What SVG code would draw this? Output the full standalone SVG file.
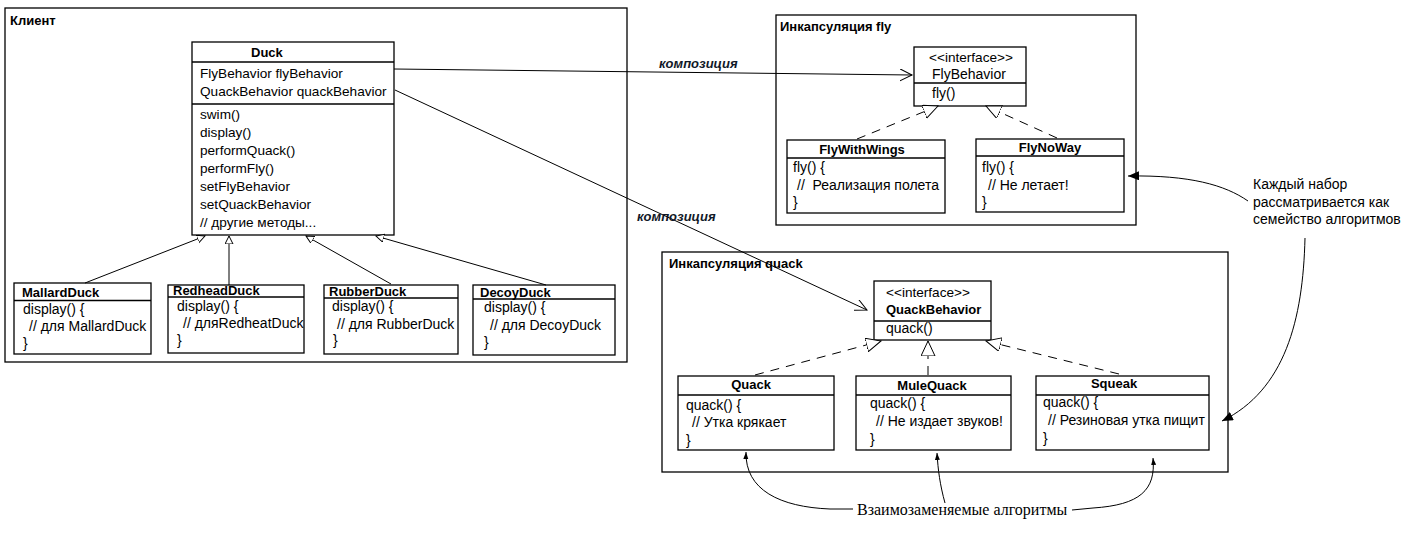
<svg xmlns="http://www.w3.org/2000/svg" width="1414" height="533" viewBox="0 0 1414 533">
<style>
  .box { fill: #fff; stroke: #000; stroke-width: 1.3; }
  .frame { fill: none; stroke: #000; stroke-width: 1.3; }
  .sep { stroke: #000; stroke-width: 1.3; }
  text { font-family: "Liberation Sans", Arial, sans-serif; font-size: 14px; fill: #000; }
  .d { font-size: 13.6px; }
  .b { font-weight: bold; font-size: 13px; }
  .mid { text-anchor: middle; }
  .comp { font-weight: bold; font-style: italic; font-size: 13px; fill: #111827; }
  .serif { font-family: "Liberation Serif", "Times New Roman", serif; font-size: 16px; }
  .line { fill: none; stroke: #000; stroke-width: 1; }
  .dash { fill: none; stroke: #000; stroke-width: 1; stroke-dasharray: 9 7; }
</style>
<defs>
  <marker id="open" markerUnits="userSpaceOnUse" markerWidth="14" markerHeight="14" refX="12" refY="6" orient="auto">
    <path d="M0,0 L12,6 L0,12" fill="none" stroke="#000" stroke-width="1"/>
  </marker>
  <marker id="gen" markerUnits="userSpaceOnUse" markerWidth="10" markerHeight="10" refX="8" refY="4" orient="auto">
    <path d="M0,0 L8,4 L0,8 Z" fill="#fff" stroke="#000" stroke-width="1" stroke-dasharray="none"/>
  </marker>
  <marker id="real" markerUnits="userSpaceOnUse" markerWidth="16" markerHeight="16" refX="15" refY="7" orient="auto">
    <path d="M0,0 L15,7 L0,14 Z" fill="#fff" stroke="#000" stroke-width="1" stroke-dasharray="none"/>
  </marker>
  <marker id="solid" markerUnits="userSpaceOnUse" markerWidth="12" markerHeight="10" refX="11" refY="4.5" orient="auto">
    <path d="M0,0 L11,4.5 L0,9 Z" fill="#000"/>
  </marker>
  <marker id="small" markerUnits="userSpaceOnUse" markerWidth="8" markerHeight="6" refX="7" refY="2.5" orient="auto">
    <path d="M0,0 L7,2.5 L0,5 Z" fill="#000"/>
  </marker>
</defs>

<g id="client">
  <rect class="frame" x="5" y="8" width="622" height="354"/>
  <text class="b" x="10" y="25">Клиент</text>
</g>

<g id="duck">
  <rect class="box" x="192" y="42" width="202" height="193"/>
  <line class="sep" x1="192" y1="62" x2="394" y2="62"/>
  <line class="sep" x1="192" y1="104" x2="394" y2="104"/>
  <text class="b" x="251" y="57">Duck</text>
  <text class="d" x="200" y="78">FlyBehavior flyBehavior</text>
  <text class="d" x="200" y="96">QuackBehavior quackBehavior</text>
  <text class="d" x="200" y="119">swim()</text>
  <text class="d" x="200" y="137">display()</text>
  <text class="d" x="200" y="155">performQuack()</text>
  <text class="d" x="200" y="173">performFly()</text>
  <text class="d" x="200" y="191">setFlyBehavior</text>
  <text class="d" x="200" y="209">setQuackBehavior</text>
  <text class="d" x="200" y="227">// другие методы...</text>
</g>

<g id="mallard">
  <rect class="box" x="14" y="283" width="137" height="71"/>
  <line class="sep" x1="14" y1="300.5" x2="151" y2="300.5"/>
  <text class="b" x="22" y="297">MallardDuck</text>
  <text x="23" y="314">display() {</text>
  <text x="29" y="331">// для MallardDuck</text>
  <text x="23" y="348">}</text>
</g>

<g id="redhead">
  <rect class="box" x="168" y="285" width="136" height="68"/>
  <line class="sep" x1="168" y1="297" x2="304" y2="297"/>
  <text class="b" x="173" y="295">RedheadDuck</text>
  <text x="177" y="311">display() {</text>
  <text x="183" y="328">// дляRedheatDuck</text>
  <text x="177" y="345">}</text>
</g>

<g id="rubber">
  <rect class="box" x="324" y="285" width="134" height="69"/>
  <line class="sep" x1="324" y1="298" x2="458" y2="298"/>
  <text class="b" x="329" y="296">RubberDuck</text>
  <text x="332" y="311">display() {</text>
  <text x="337" y="329">// для RubberDuck</text>
  <text x="333" y="345">}</text>
</g>

<g id="decoy">
  <rect class="box" x="473" y="285" width="142" height="70"/>
  <line class="sep" x1="473" y1="299" x2="615" y2="299"/>
  <text class="b" x="480" y="297">DecoyDuck</text>
  <text x="484" y="312">display() {</text>
  <text x="490" y="330">// для DecoyDuck</text>
  <text x="484" y="347">}</text>
</g>

<g id="fly-group">
  <rect class="frame" x="776" y="15" width="360" height="210"/>
  <text class="b" x="780" y="31">Инкапсуляция fly</text>
</g>

<g id="flybehavior">
  <rect class="box" x="914" y="47" width="112" height="59"/>
  <line class="sep" x1="914" y1="83" x2="1026" y2="83"/>
  <text class="d" x="929" y="62">&lt;&lt;interface&gt;&gt;</text>
  <text x="932" y="79">FlyBehavior</text>
  <text x="932" y="98">fly()</text>
</g>

<g id="flywithwings">
  <rect class="box" x="787" y="140" width="158" height="73"/>
  <line class="sep" x1="787" y1="158" x2="945" y2="158"/>
  <text class="b mid" x="862" y="154">FlyWithWings</text>
  <text x="793" y="172">fly() {</text>
  <text x="797" y="190" xml:space="preserve">//  Реализация полета</text>
  <text x="793" y="207">}</text>
</g>

<g id="flynoway">
  <rect class="box" x="976" y="139" width="148" height="73"/>
  <line class="sep" x1="976" y1="156" x2="1124" y2="156"/>
  <text class="b mid" x="1050" y="152">FlyNoWay</text>
  <text x="982" y="172">fly() {</text>
  <text x="988" y="190">// Не летает!</text>
  <text x="982" y="207">}</text>
</g>

<g id="quack-group">
  <rect class="frame" x="662" y="252" width="566" height="220"/>
  <text class="b" x="669" y="268">Инкапсуляция quack</text>
</g>

<g id="quackbehavior">
  <rect class="box" x="874" y="281" width="117" height="59"/>
  <line class="sep" x1="874" y1="321" x2="991" y2="321"/>
  <text class="d" x="886" y="297">&lt;&lt;interface&gt;&gt;</text>
  <text class="b" x="886" y="314">QuackBehavior</text>
  <text x="886" y="333">quack()</text>
</g>

<g id="quack">
  <rect class="box" x="678" y="376" width="156" height="74"/>
  <line class="sep" x1="678" y1="395" x2="834" y2="395"/>
  <text class="b mid" x="751" y="389">Quack</text>
  <text x="686" y="410">quack() {</text>
  <text x="692" y="427">// Утка крякает</text>
  <text x="686" y="445">}</text>
</g>

<g id="mulequack">
  <rect class="box" x="856" y="376" width="155" height="74"/>
  <line class="sep" x1="856" y1="395" x2="1011" y2="395"/>
  <text class="b mid" x="932" y="390">MuleQuack</text>
  <text x="870" y="408">quack() {</text>
  <text x="876" y="426">// Не издает звуков!</text>
  <text x="870" y="444">}</text>
</g>

<g id="squeak">
  <rect class="box" x="1036" y="376" width="173" height="74"/>
  <line class="sep" x1="1036" y1="395" x2="1209" y2="395"/>
  <text class="b mid" x="1114" y="388">Squeak</text>
  <text x="1043" y="407">quack() {</text>
  <text x="1048" y="425">// Резиновая утка пищит</text>
  <text x="1043" y="443">}</text>
</g>

<g id="note-family">
  <text x="1253" y="189">Каждый набор</text>
  <text x="1253" y="207">рассматривается как</text>
  <text x="1253" y="224">семейство алгоритмов</text>
</g>

<g id="note-interchangeable">
  <text class="serif" x="857" y="515">Взаимозаменяемые алгоритмы</text>
</g>

<g id="connectors">
  <path class="line" d="M85,283 L205,236" marker-end="url(#gen)"/>
  <path class="line" d="M229,285 L229,236" marker-end="url(#gen)"/>
  <path class="line" d="M391,284 L306,236" marker-end="url(#gen)"/>
  <path class="line" d="M546,285 L376,236" marker-end="url(#gen)"/>

  <path class="line" d="M394,69 L912,75" marker-end="url(#open)"/>
  <text class="comp" x="659" y="68">композиция</text>
  <path class="line" d="M395,90 L867,310" marker-end="url(#open)"/>
  <text class="comp" x="637" y="221">композиция</text>

  <path class="dash" d="M857,139 L938,106" marker-end="url(#real)"/>
  <path class="dash" d="M1057,138 L986,106" marker-end="url(#real)"/>

  <path class="dash" d="M755,375 L881,341" marker-end="url(#real)"/>
  <path class="dash" d="M928,375 L928,341" marker-end="url(#real)"/>
  <path class="dash" d="M1119,374 L986,341" marker-end="url(#real)"/>

  <path class="line" d="M1248,201 C1225,185 1190,175 1128,176" marker-end="url(#solid)"/>
  <path class="line" d="M1305,238 C1303,320 1285,390 1222,421" marker-end="url(#solid)"/>

  <path class="line" d="M853,509 L830,509 C780,507 745,490 746,452" marker-end="url(#small)"/>
  <path class="line" d="M945,503 C940,485 938,470 937,453" marker-end="url(#small)"/>
  <path class="line" d="M1072,510 L1093,508 C1140,505 1156,490 1153,458" marker-end="url(#small)"/>
</g>
</svg>
